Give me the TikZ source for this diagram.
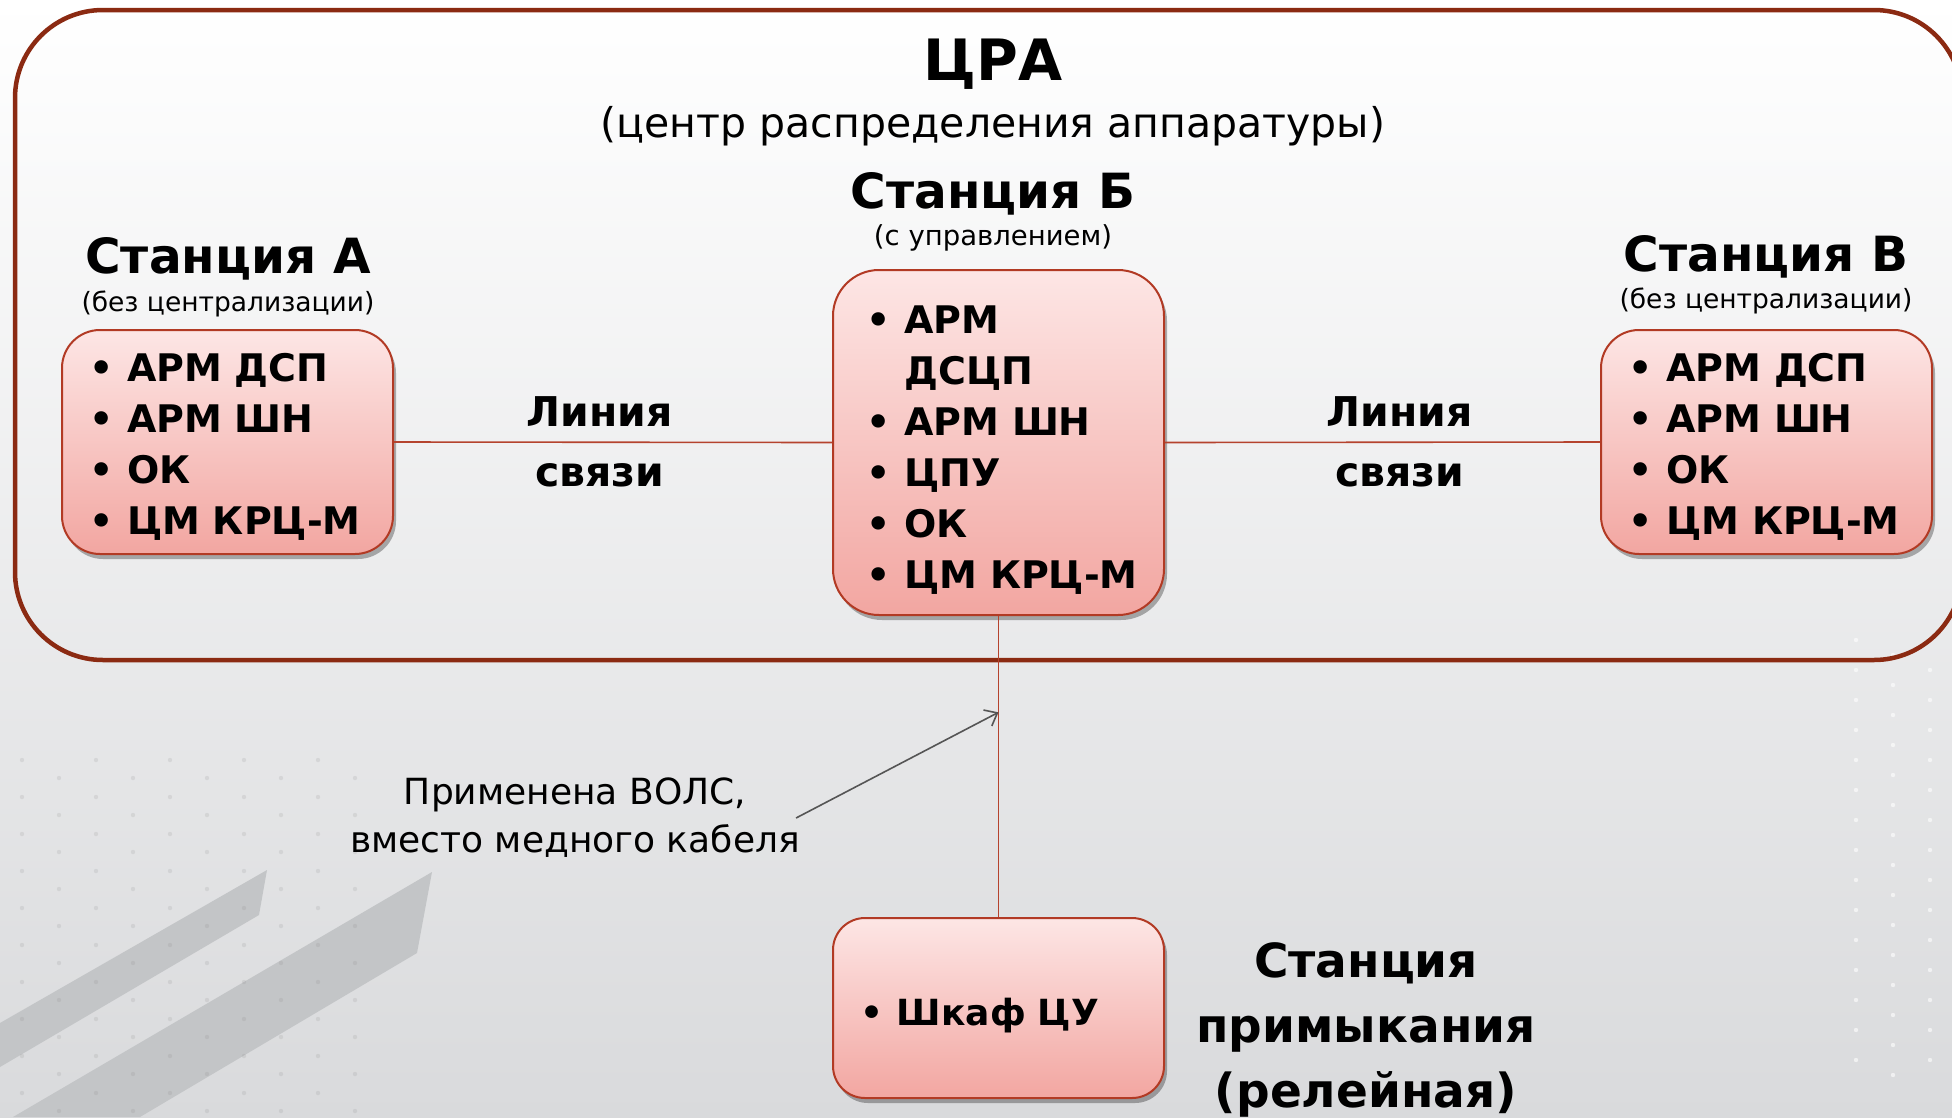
\documentclass[tikz,border=0pt]{standalone}
\usepackage{fontspec}
\setmainfont{DejaVu Sans}
\usetikzlibrary{shadows,arrows.meta,calc}
\definecolor{frameC}{HTML}{8B2A12}
\definecolor{lineC}{HTML}{B5432E}
\definecolor{boxTop}{HTML}{FDE6E5}
\definecolor{boxBot}{HTML}{F2A6A1}
\definecolor{boxBorder}{HTML}{B23A24}
\definecolor{bgBot}{HTML}{D9DADC}
\definecolor{stripeC}{HTML}{C3C5C7}
\definecolor{noteC}{HTML}{555555}
\tikzset{
  stationbox/.style={draw=boxBorder, line width=2pt, top color=boxTop, bottom color=boxBot,
    minimum width=331pt, align=left, inner ysep=0pt,
    drop shadow={shadow xshift=3pt, shadow yshift=-5pt, opacity=0.3, fill=black}},
  itemfont/.style={font=\fontsize{38}{51}\selectfont\bfseries},
  heading/.style={font=\fontsize{48.5}{56}\selectfont\bfseries, inner sep=0pt},
  subhead/.style={font=\fontsize{26.5}{32}\selectfont, inner sep=0pt},
  linklabel/.style={font=\fontsize{41}{60}\selectfont\bfseries, align=center, inner sep=0pt},
  conn/.style={draw=lineC, line width=1.6pt},
  framebox/.style={draw=frameC, line width=4.5pt, rounded corners=88pt},
  notearrow/.style={draw=noteC, line width=1.6pt, -{Straight Barb[length=11pt,width=18pt]}},
}
\newcommand{\bl}{\textbullet}
\newcommand{\itemlist}[2][0pt]{\raisebox{#1}[\height][\depth]{\begin{tabular}{@{}l@{\hspace{14pt}}l@{}}#2\end{tabular}}}
\begin{document}
\begin{tikzpicture}[x=1pt,y=-1pt]
\clip (0,0) rectangle (1952,1117);
\shade[top color=white, bottom color=bgBot] (0,0) rectangle (1952,1117);
% decorative stripes
\fill[stripeC] (267,870) -- (259,915) -- (0,1067) -- (0,1023) -- cycle;
\fill[stripeC] (432,872) -- (417,953) -- (140,1117) -- (13,1117) -- cycle;
% faint dots
\foreach \i in {0,...,9}{\foreach \j in {0,...,9}{
  \fill[gray, opacity=0.15] ({22+37*\i}, {760+37*\j+18*mod(\i,2)}) circle (2.2pt);}}
\foreach \i in {0,...,2}{\foreach \j in {0,...,14}{
  \fill[white, opacity=0.6] ({1856+37*\i}, {640+30*\j+15*mod(\i,2)}) circle (2.2pt);}}
% outer frame
\draw[framebox] (15,10) rectangle (1962,660);
% titles
\node[font=\fontsize{57}{64}\selectfont\bfseries, inner sep=0pt] (title) at (993,64) {ЦРА};
\node[font=\fontsize{41}{48}\selectfont, inner sep=0pt] (subtitle) at (993,126) {(центр распределения аппаратуры)};
\node[heading] (hB) at (993,194) {Станция Б};
\node[subhead, font=\fontsize{27.5}{32}\selectfont] (sB) at (993,238) {(с управлением)};
\node[heading] (hA) at (228,259) {Станция А};
\node[subhead] (sA) at (228,304) {(без централизации)};
\node[heading] (hV) at (1766,257) {Станция В};
\node[subhead] (sV) at (1766,301) {(без централизации)};
% boxes
\node[stationbox, itemfont, rounded corners=38pt, minimum height=224pt, inner xsep=27pt, text width=277pt] (A) at (227.5,442)
  {\itemlist[-6pt]{\bl & АРМ ДСП\\ \bl & АРМ ШН\\ \bl & ОК\\ \bl & ЦМ КРЦ-М}};
\node[stationbox, itemfont, rounded corners=46pt, minimum height=345pt, inner xsep=33pt, text width=265pt] (B) at (998.5,442.5)
  {\itemlist[-8pt]{\bl & АРМ\\ & ДСЦП\\ \bl & АРМ ШН\\ \bl & ЦПУ\\ \bl & ОК\\ \bl & ЦМ КРЦ-М}};
\node[stationbox, itemfont, rounded corners=38pt, minimum height=224pt, inner xsep=27pt, text width=277pt] (V) at (1766.5,442)
  {\itemlist[-6pt]{\bl & АРМ ДСП\\ \bl & АРМ ШН\\ \bl & ОК\\ \bl & ЦМ КРЦ-М}};
\node[stationbox, itemfont, font=\fontsize{36}{51}\selectfont\bfseries, rounded corners=32pt, minimum height=180pt, inner xsep=27pt, text width=277pt] (S) at (998.5,1008)
  {\itemlist[-7pt]{\bl & Шкаф ЦУ}};
% connectors
\draw[conn] (A.east) -- node[linklabel, pos=0.47] (l1) {Линия\\связи} (B.west);
\draw[conn] (B.east) -- node[linklabel, pos=0.54] (l2) {Линия\\связи} (V.west);
\draw[conn] (B.south) -- (S.north);
\coordinate (fiber) at ($(B.south)!0.32!(S.north)$);
% relay station label
\node[font=\fontsize{47}{65}\selectfont\bfseries, align=center, inner sep=0pt] (relay) at (1366,1030) {Станция\\примыкания\\(релейная)};
% note
\node[font=\fontsize{36}{48}\selectfont, align=center, inner sep=0pt] (note) at (575,818) {Применена ВОЛС,\\вместо медного кабеля};
\draw[notearrow] ([xshift=-4pt]note.east) -- (fiber);
\end{tikzpicture}
\end{document}
